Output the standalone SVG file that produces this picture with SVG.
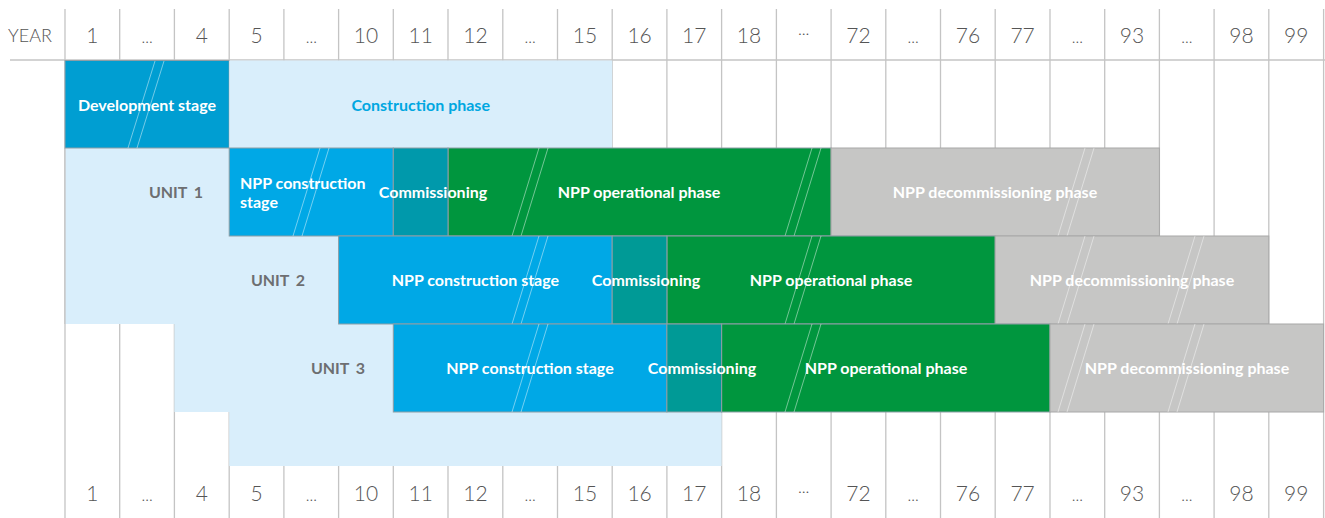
<svg xmlns="http://www.w3.org/2000/svg" width="1325" height="518" viewBox="0 0 1325 518">
<style>
.bg{fill:#ffffff}
.grid line{stroke:#c4c4c4;stroke-width:1.3}
.hdr{font-family:Lato,"Noto Sans",sans-serif;font-weight:300;font-size:21px;fill:#555555;text-anchor:middle}
.dots{font-size:16px}
.year{font-family:Lato,"Noto Sans",sans-serif;font-weight:300;font-size:18px;fill:#555555}
.lite{fill:#d9eefb}
.dev{fill:#009ed2;stroke:#8e9ea6;stroke-width:1}
.cons{fill:#00a8e6;stroke:#8e9ea6;stroke-width:1}
.com1{fill:#0099ab;stroke:#8e9ea6;stroke-width:1}
.com{fill:#009a96;stroke:#8e9ea6;stroke-width:1}
.ops{fill:#00963e;stroke:#8e9ea6;stroke-width:1}
.dec{fill:#c6c6c5;stroke:#a8a8a8;stroke-width:1}
.lbl{font-family:Lato,"Noto Sans",sans-serif;font-weight:700;font-size:16px;fill:#ffffff;text-anchor:middle}
.lblL{text-anchor:start}
.cph{fill:#00a7e1}
.unit{font-family:Lato,"Noto Sans",sans-serif;font-weight:700;font-size:16px;fill:#6d6e71;text-anchor:middle;word-spacing:3px}
.brk line{stroke:#ffffff;stroke-opacity:0.45;stroke-width:1}
</style>
<rect class="bg" x="0" y="0" width="1325" height="518"/>
<g id="grid" class="grid">
<line x1="65" y1="9" x2="65" y2="518"/>
<line x1="119.7" y1="9" x2="119.7" y2="518"/>
<line x1="174.4" y1="9" x2="174.4" y2="518"/>
<line x1="229.2" y1="9" x2="229.2" y2="518"/>
<line x1="283.9" y1="9" x2="283.9" y2="518"/>
<line x1="338.6" y1="9" x2="338.6" y2="518"/>
<line x1="393.3" y1="9" x2="393.3" y2="518"/>
<line x1="448" y1="9" x2="448" y2="518"/>
<line x1="502.8" y1="9" x2="502.8" y2="518"/>
<line x1="557.5" y1="9" x2="557.5" y2="518"/>
<line x1="612.2" y1="9" x2="612.2" y2="518"/>
<line x1="666.9" y1="9" x2="666.9" y2="518"/>
<line x1="721.6" y1="9" x2="721.6" y2="518"/>
<line x1="776.4" y1="9" x2="776.4" y2="518"/>
<line x1="831.1" y1="9" x2="831.1" y2="518"/>
<line x1="885.8" y1="9" x2="885.8" y2="518"/>
<line x1="940.5" y1="9" x2="940.5" y2="518"/>
<line x1="995.2" y1="9" x2="995.2" y2="518"/>
<line x1="1050" y1="9" x2="1050" y2="518"/>
<line x1="1104.7" y1="9" x2="1104.7" y2="518"/>
<line x1="1159.4" y1="9" x2="1159.4" y2="518"/>
<line x1="1214.1" y1="9" x2="1214.1" y2="518"/>
<line x1="1268.8" y1="9" x2="1268.8" y2="518"/>
<line x1="1323.6" y1="9" x2="1323.6" y2="518"/>
<line x1="10" y1="60" x2="1325" y2="60"/>
</g>
<g id="header">
<text class="year" x="8" y="42">YEAR</text>
<text class="hdr" x="92.4" y="43">1</text>
<text class="hdr dots" x="147.1" y="43">...</text>
<text class="hdr" x="201.8" y="43">4</text>
<text class="hdr" x="256.5" y="43">5</text>
<text class="hdr dots" x="311.3" y="43">...</text>
<text class="hdr" x="366" y="43">10</text>
<text class="hdr" x="420.7" y="43">11</text>
<text class="hdr" x="475.4" y="43">12</text>
<text class="hdr dots" x="530.1" y="43">...</text>
<text class="hdr" x="584.9" y="43">15</text>
<text class="hdr" x="639.6" y="43">16</text>
<text class="hdr" x="694.3" y="43">17</text>
<text class="hdr" x="749" y="43">18</text>
<text class="hdr dots" x="803.7" y="39">···</text>
<text class="hdr" x="858.4" y="43">72</text>
<text class="hdr dots" x="913.2" y="43">...</text>
<text class="hdr" x="967.9" y="43">76</text>
<text class="hdr" x="1022.6" y="43">77</text>
<text class="hdr dots" x="1077.3" y="43">...</text>
<text class="hdr" x="1132" y="43">93</text>
<text class="hdr dots" x="1186.8" y="43">...</text>
<text class="hdr" x="1241.5" y="43">98</text>
<text class="hdr" x="1296.2" y="43">99</text>
</g>
<g id="backgrounds">
<rect class="lite" x="65" y="148" width="164.2" height="88"/>
<rect class="lite" x="65" y="236" width="273.6" height="88"/>
<rect class="lite" x="174.4" y="324" width="218.9" height="88"/>
<rect class="lite" x="229.2" y="412" width="492.4" height="54"/>
<line x1="65" y1="148" x2="65" y2="324" stroke="#c4c4c4" stroke-width="1.3"/>
</g>
<g id="development-stage">
<rect class="dev" x="65" y="60.5" width="164.2" height="87.5"/>
<g class="brk"><line x1="155" y1="61" x2="128" y2="148"/><line x1="164" y1="61" x2="137" y2="148"/></g>
<text class="lbl" x="147" y="110.5">Development stage</text>
</g>
<g id="construction-phase">
<rect class="lite" x="229.2" y="60.5" width="383" height="87.5"/>
<text class="lbl cph" x="420.7" y="110.5">Construction phase</text>
</g>
<g id="unit-1">
<text class="unit" x="176" y="198">UNIT 1</text>
<g id="u1-construction">
<rect class="cons" x="229.2" y="148" width="164.1" height="88"/>
<g class="brk"><line x1="320" y1="148" x2="293" y2="236"/><line x1="329" y1="148" x2="302" y2="236"/></g>
<text class="lbl lblL" x="240" y="189">NPP construction</text>
<text class="lbl lblL" x="240" y="208">stage</text>
</g>
<g id="u1-operational">
<rect class="ops" x="448" y="148" width="383.1" height="88"/>
<g class="brk"><line x1="539" y1="148" x2="512" y2="236"/><line x1="548" y1="148" x2="521" y2="236"/><line x1="812" y1="148" x2="785" y2="236"/><line x1="821" y1="148" x2="794" y2="236"/></g>
<text class="lbl" x="639" y="198">NPP operational phase</text>
</g>
<g id="u1-decommissioning">
<rect class="dec" x="831.1" y="148" width="328.3" height="88"/>
<g class="brk"><line x1="1085" y1="148" x2="1058" y2="236"/><line x1="1094" y1="148" x2="1067" y2="236"/></g>
<text class="lbl" x="995" y="198">NPP decommissioning phase</text>
</g>
<g id="u1-commissioning">
<rect class="com1" x="393.3" y="148" width="54.7" height="88"/>
<text class="lbl" x="433" y="198">Commissioning</text>
</g>
</g>
<g id="unit-2">
<text class="unit" x="278" y="286">UNIT 2</text>
<g id="u2-construction">
<rect class="cons" x="338.6" y="236" width="273.6" height="88"/>
<g class="brk"><line x1="539" y1="236" x2="512" y2="324"/><line x1="548" y1="236" x2="521" y2="324"/></g>
<text class="lbl" x="475.4" y="286">NPP construction stage</text>
</g>
<g id="u2-operational">
<rect class="ops" x="666.9" y="236" width="328.3" height="88"/>
<g class="brk"><line x1="812" y1="236" x2="785" y2="324"/><line x1="821" y1="236" x2="794" y2="324"/></g>
<text class="lbl" x="831" y="286">NPP operational phase</text>
</g>
<g id="u2-decommissioning">
<rect class="dec" x="995.2" y="236" width="273.6" height="88"/>
<g class="brk"><line x1="1085" y1="236" x2="1058" y2="324"/><line x1="1094" y1="236" x2="1067" y2="324"/><line x1="1195" y1="236" x2="1168" y2="324"/><line x1="1204" y1="236" x2="1177" y2="324"/></g>
<text class="lbl" x="1132" y="286">NPP decommissioning phase</text>
</g>
<g id="u2-commissioning">
<rect class="com" x="612.2" y="236" width="54.7" height="88"/>
<text class="lbl" x="646" y="286">Commissioning</text>
</g>
</g>
<g id="unit-3">
<text class="unit" x="338" y="374">UNIT 3</text>
<g id="u3-construction">
<rect class="cons" x="393.3" y="324" width="273.6" height="88"/>
<g class="brk"><line x1="539" y1="324" x2="512" y2="412"/><line x1="548" y1="324" x2="521" y2="412"/></g>
<text class="lbl" x="530" y="374">NPP construction stage</text>
</g>
<g id="u3-operational">
<rect class="ops" x="721.6" y="324" width="328.4" height="88"/>
<g class="brk"><line x1="812" y1="324" x2="785" y2="412"/><line x1="821" y1="324" x2="794" y2="412"/></g>
<text class="lbl" x="886" y="374">NPP operational phase</text>
</g>
<g id="u3-decommissioning">
<rect class="dec" x="1050" y="324" width="273.6" height="88"/>
<g class="brk"><line x1="1085" y1="324" x2="1058" y2="412"/><line x1="1094" y1="324" x2="1067" y2="412"/><line x1="1195" y1="324" x2="1168" y2="412"/><line x1="1204" y1="324" x2="1177" y2="412"/></g>
<text class="lbl" x="1187" y="374">NPP decommissioning phase</text>
</g>
<g id="u3-commissioning">
<rect class="com" x="666.9" y="324" width="54.7" height="88"/>
<text class="lbl" x="702" y="374">Commissioning</text>
</g>
</g>
<g id="footer">
<text class="hdr" x="92.4" y="501">1</text>
<text class="hdr dots" x="147.1" y="501">...</text>
<text class="hdr" x="201.8" y="501">4</text>
<text class="hdr" x="256.5" y="501">5</text>
<text class="hdr dots" x="311.3" y="501">...</text>
<text class="hdr" x="366" y="501">10</text>
<text class="hdr" x="420.7" y="501">11</text>
<text class="hdr" x="475.4" y="501">12</text>
<text class="hdr dots" x="530.1" y="501">...</text>
<text class="hdr" x="584.9" y="501">15</text>
<text class="hdr" x="639.6" y="501">16</text>
<text class="hdr" x="694.3" y="501">17</text>
<text class="hdr" x="749" y="501">18</text>
<text class="hdr dots" x="803.7" y="497">···</text>
<text class="hdr" x="858.4" y="501">72</text>
<text class="hdr dots" x="913.2" y="501">...</text>
<text class="hdr" x="967.9" y="501">76</text>
<text class="hdr" x="1022.6" y="501">77</text>
<text class="hdr dots" x="1077.3" y="501">...</text>
<text class="hdr" x="1132" y="501">93</text>
<text class="hdr dots" x="1186.8" y="501">...</text>
<text class="hdr" x="1241.5" y="501">98</text>
<text class="hdr" x="1296.2" y="501">99</text>
</g>
</svg>
